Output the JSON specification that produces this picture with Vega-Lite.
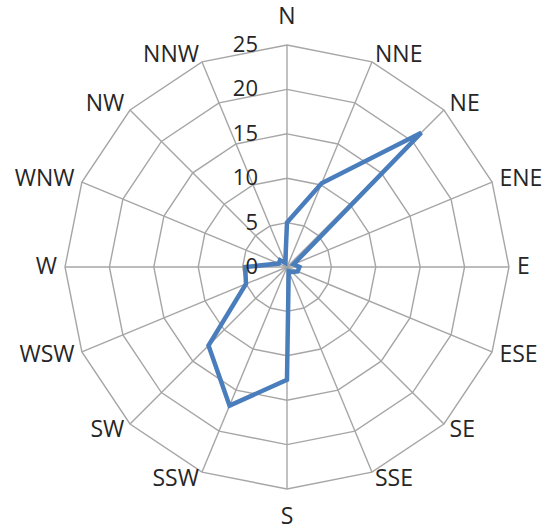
{
  "$schema": "https://vega.github.io/schema/vega-lite/v6.json",
  "width": 550,
  "height": 531,
  "autosize": "none",
  "padding": 0,
  "background": "white",
  "config": {"view": {"stroke": null}},
  "datasets": {
    "wind": [
      {"dir": "N", "speed": 5.0},
      {"dir": "NNE", "speed": 10.2},
      {"dir": "NE", "speed": 21.4},
      {"dir": "ENE", "speed": 0.8},
      {"dir": "E", "speed": 1.4},
      {"dir": "ESE", "speed": 1.3},
      {"dir": "SE", "speed": 0.8},
      {"dir": "SSE", "speed": 0.5},
      {"dir": "S", "speed": 12.7},
      {"dir": "SSW", "speed": 16.9},
      {"dir": "SW", "speed": 12.5},
      {"dir": "WSW", "speed": 5.0},
      {"dir": "W", "speed": 4.7},
      {"dir": "WNW", "speed": 1.0},
      {"dir": "NW", "speed": 1.1},
      {"dir": "NNW", "speed": 0.5}
    ],
    "ticks": [{"v": 0}, {"v": 5}, {"v": 10}, {"v": 15}, {"v": 20}, {"v": 25}]
  },
  "layer": [
    {
      "data": {"name": "wind"},
      "transform": [
        {"window": [{"op": "row_number", "as": "idx"}]},
        {"calculate": "(datum.idx-1)*PI/8", "as": "a"},
        {"calculate": "[5,10,15,20,25]", "as": "lv"},
        {"flatten": ["lv"]},
        {"calculate": "datum.lv*sin(datum.a)", "as": "x"},
        {"calculate": "datum.lv*cos(datum.a)", "as": "y"}
      ],
      "mark": {"type": "line", "interpolate": "linear-closed", "stroke": "#a6a6a6", "strokeWidth": 1.4},
      "encoding": {
        "x": {"field": "x", "type": "quantitative", "scale": {"domain": [-32.32, 29.62], "nice": false, "zero": false}, "axis": null},
        "y": {"field": "y", "type": "quantitative", "scale": {"domain": [-29.73, 30.07], "nice": false, "zero": false}, "axis": null},
        "detail": {"field": "lv", "type": "quantitative"},
        "order": {"field": "idx", "type": "quantitative"}
      }
    },
    {
      "data": {"name": "wind"},
      "transform": [
        {"window": [{"op": "row_number", "as": "idx"}]},
        {"calculate": "(datum.idx-1)*PI/8", "as": "a"},
        {"calculate": "25*sin(datum.a)", "as": "x"},
        {"calculate": "25*cos(datum.a)", "as": "y"}
      ],
      "mark": {"type": "rule", "stroke": "#a6a6a6", "strokeWidth": 1.4},
      "encoding": {
        "x": {"field": "x", "type": "quantitative"},
        "y": {"field": "y", "type": "quantitative"},
        "x2": {"datum": 0},
        "y2": {"datum": 0}
      }
    },
    {
      "data": {"name": "wind"},
      "transform": [
        {"window": [{"op": "row_number", "as": "idx"}]},
        {"calculate": "(datum.idx-1)*PI/8", "as": "a"},
        {"calculate": "datum.speed*sin(datum.a)", "as": "x"},
        {"calculate": "datum.speed*cos(datum.a)", "as": "y"}
      ],
      "mark": {"type": "line", "interpolate": "linear-closed", "stroke": "#4a7dbb", "strokeWidth": 4.5, "strokeJoin": "miter"},
      "encoding": {
        "x": {"field": "x", "type": "quantitative"},
        "y": {"field": "y", "type": "quantitative"},
        "order": {"field": "idx", "type": "quantitative"}
      }
    },
    {
      "data": {"name": "ticks"},
      "mark": {"type": "text", "align": "right", "baseline": "middle", "dx": -29, "font": "Open Sans", "fontSize": 22, "fill": "#262626"},
      "encoding": {
        "x": {"datum": 0},
        "y": {"field": "v", "type": "quantitative"},
        "text": {"field": "v", "type": "quantitative"}
      }
    },
    {
      "data": {"name": "wind"},
      "transform": [
        {"window": [{"op": "row_number", "as": "idx"}]},
        {"calculate": "(datum.idx-1)*PI/8", "as": "a"},
        {"filter": "abs(sin(datum.a)) < 0.1"},
        {"calculate": "28.1*sin(datum.a)", "as": "x"},
        {"calculate": "28.1*cos(datum.a)", "as": "y"}
      ],
      "mark": {"type": "text", "align": "center", "baseline": "middle", "font": "Open Sans", "fontSize": 23, "fill": "#262626"},
      "encoding": {
        "x": {"field": "x", "type": "quantitative"},
        "y": {"field": "y", "type": "quantitative"},
        "text": {"field": "dir"}
      }
    },
    {
      "data": {"name": "wind"},
      "transform": [
        {"window": [{"op": "row_number", "as": "idx"}]},
        {"calculate": "(datum.idx-1)*PI/8", "as": "a"},
        {"filter": "sin(datum.a) >= 0.1"},
        {"calculate": "25.9*sin(datum.a)", "as": "x"},
        {"calculate": "25.9*cos(datum.a)", "as": "y"}
      ],
      "mark": {"type": "text", "align": "left", "baseline": "middle", "font": "Open Sans", "fontSize": 23, "fill": "#262626"},
      "encoding": {
        "x": {"field": "x", "type": "quantitative"},
        "y": {"field": "y", "type": "quantitative"},
        "text": {"field": "dir"}
      }
    },
    {
      "data": {"name": "wind"},
      "transform": [
        {"window": [{"op": "row_number", "as": "idx"}]},
        {"calculate": "(datum.idx-1)*PI/8", "as": "a"},
        {"filter": "sin(datum.a) <= -0.1"},
        {"calculate": "25.9*sin(datum.a)", "as": "x"},
        {"calculate": "25.9*cos(datum.a)", "as": "y"}
      ],
      "mark": {"type": "text", "align": "right", "baseline": "middle", "font": "Open Sans", "fontSize": 23, "fill": "#262626"},
      "encoding": {
        "x": {"field": "x", "type": "quantitative"},
        "y": {"field": "y", "type": "quantitative"},
        "text": {"field": "dir"}
      }
    }
  ]
}
